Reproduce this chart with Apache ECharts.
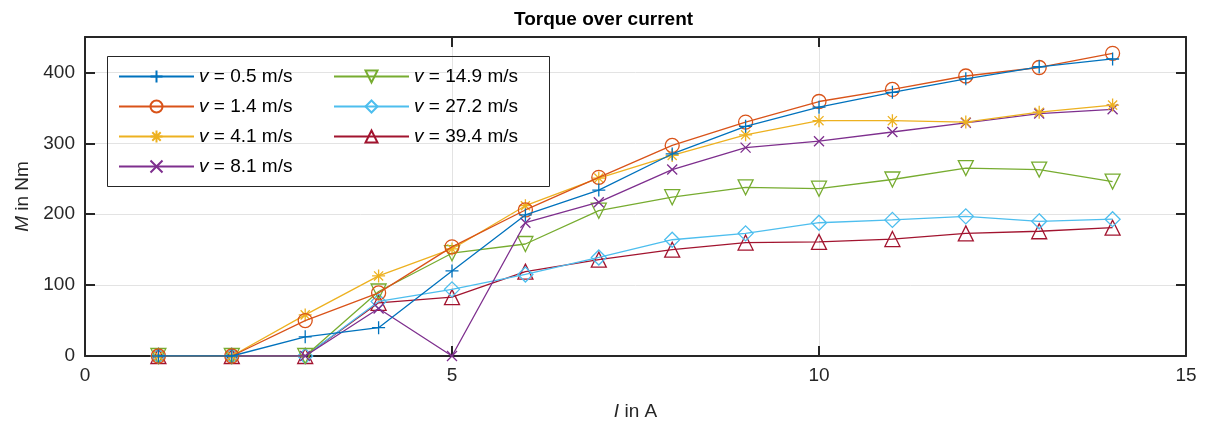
<!DOCTYPE html>
<html>
<head>
<meta charset="utf-8">
<script src="https://cdn.jsdelivr.net/npm/echarts@6/dist/echarts.min.js"></script>
<style>
  html, body { margin: 0; padding: 0; background: #fff; }
  #torque_chart { width: 1207px; height: 428px; }
</style>
</head>
<body>
<div id="torque_chart"></div>
<script>
var current = [1, 2, 3, 4, 5, 6, 7, 8, 9, 10, 11, 12, 13, 14];   // I in A

var v05  = [0, 0, 27, 40, 120, 199, 234, 285, 324, 351, 372, 391, 408, 419];
var v14  = [0, 0, 50, 89, 154, 206, 252, 297, 330, 359, 376, 395, 407, 427];
var v41  = [0, 0, 58, 113, 151, 212, 251, 283, 312, 332, 332, 330, 344, 354];
var v81  = [0, 0, 0, 67, 0, 188, 217, 263, 294, 303, 316, 329, 342, 348];
var v149 = [0, 0, 0, 91, 145, 158, 205, 224, 238, 236, 249, 265, 263, 246];
var v272 = [0, 0, 0, 77, 94, 115, 139, 164, 173, 188, 192, 197, 190, 193];
var v394 = [0, 0, 0, 75, 83, 119, 136, 150, 160, 161, 165, 173, 176, 181];

var speeds = ['0.5', '1.4', '4.1', '8.1', '14.9', '27.2', '39.4'];
var yTicks = [0, 100, 200, 300, 400];

var colors = ['#0072BD', '#D95319', '#EDB120', '#7E2F8E', '#77AC30', '#4DBEEE', '#A2142F'];
var symbols = [
    'path://M5,0L5,10M0,5L10,5',                                  // +
    'circle',                                                     // o
    'path://M5,0L5,10M0,5L10,5M1.5,1.5L8.5,8.5M8.5,1.5L1.5,8.5',  // *
    'path://M0,0L10,10M10,0L0,10',                                // x
    'path://M0,0L10,0L5,9Z',                                      // v
    'path://M5,0L10,5L5,10L0,5Z',                                 // diamond
    'path://M5,0L10,9L0,9Z'                                       // ^
];
var sizes = [13, 14, 13, 10, 15, 15, 15];
var values = [v05, v14, v41, v81, v149, v272, v394];

function seriesName(i) { return 'v = ' + speeds[i] + ' m/s'; }

var series = [];
for (var i = 0; i < values.length; i++) {
    series.push({
        name: seriesName(i),
        type: 'line',
        data: current.map(function (x, k) { return [x, values[i][k]]; }),
        symbol: symbols[i],
        symbolSize: sizes[i],
        showAllSymbol: true,
        lineStyle: {color: colors[i], width: 1.3},
        itemStyle: {color: 'none', borderColor: colors[i], borderWidth: 1.3},
        emphasis: {disabled: true},
        z: 10 - i
    });
}

var legendText = {
    color: '#000', fontSize: 19, fontFamily: 'Liberation Sans',
    rich: {i: {fontStyle: 'italic', fontSize: 19, fontFamily: 'Liberation Sans', color: '#000'}}
};
function legendFmt(name) { return name.replace(/^v/, '{i|v}'); }

var axisFont = {color: '#262626', fontSize: 19, fontFamily: 'Liberation Sans'};
var frame = {show: true, onZero: false, lineStyle: {color: '#262626', width: 2}};
var ticks = {show: true, inside: true, length: 10, lineStyle: {color: '#262626', width: 2}};
var nameFont = {
    fontSize: 19, fontFamily: 'Liberation Sans', color: '#262626',
    rich: {i: {fontStyle: 'italic', fontSize: 19, fontFamily: 'Liberation Sans', color: '#262626'}}
};

var myChart = echarts.init(document.getElementById('torque_chart'));
myChart.setOption({
    animation: false,
    title: {
        text: 'Torque over current',
        left: 'center', top: 5,
        textStyle: {fontSize: 19, fontWeight: 'bold', fontFamily: 'Liberation Sans', color: '#000'}
    },
    grid: {left: 85, right: 21, top: 37, bottom: 72},
    legend: [
        {
            data: [seriesName(0), seriesName(1), seriesName(2), seriesName(3)],
            orient: 'vertical', left: 113, top: 62,
            itemWidth: 75, itemHeight: 15, itemGap: 11,
            formatter: legendFmt, textStyle: legendText
        },
        {
            data: [seriesName(4), seriesName(5), seriesName(6)],
            orient: 'vertical', left: 328, top: 62,
            itemWidth: 75, itemHeight: 15, itemGap: 11,
            formatter: legendFmt, textStyle: legendText
        }
    ],
    graphic: [{
        type: 'rect', left: 105, top: 54, z: 50,
        shape: {width: 442, height: 130},
        style: {fill: 'none', stroke: '#262626', lineWidth: 1}
    }],
    xAxis: [
        {
            type: 'value', min: 0, max: 15, interval: 5,
            name: '{i|I} in A', nameLocation: 'middle', nameGap: 46,
            nameTextStyle: nameFont,
            axisLine: frame,
            axisTick: ticks,
            axisLabel: Object.assign({margin: 10}, axisFont),
            splitLine: {lineStyle: {color: '#e3e3e3', width: 1}}
        },
        {
            type: 'value', min: 0, max: 15, interval: 5, position: 'top',
            axisLine: frame,
            axisTick: ticks,
            axisLabel: {show: false}, splitLine: {show: false}
        }
    ],
    yAxis: [
        {
            type: 'value', min: 0, max: 450, interval: 100,
            name: '{i|M} in Nm', nameLocation: 'middle', nameGap: 48, nameRotate: 90,
            nameTextStyle: nameFont,
            axisLine: frame,
            axisTick: ticks,
            axisLabel: Object.assign({margin: 10, formatter: function (v) { return yTicks.indexOf(v) >= 0 ? v : ''; }}, axisFont),
            splitLine: {lineStyle: {color: '#e3e3e3', width: 1}}
        },
        {
            type: 'value', min: 0, max: 450, interval: 100, position: 'right',
            axisLine: frame,
            axisTick: ticks,
            axisLabel: {show: false}, splitLine: {show: false}
        }
    ],
    series: series
});
</script>
</body>
</html>
